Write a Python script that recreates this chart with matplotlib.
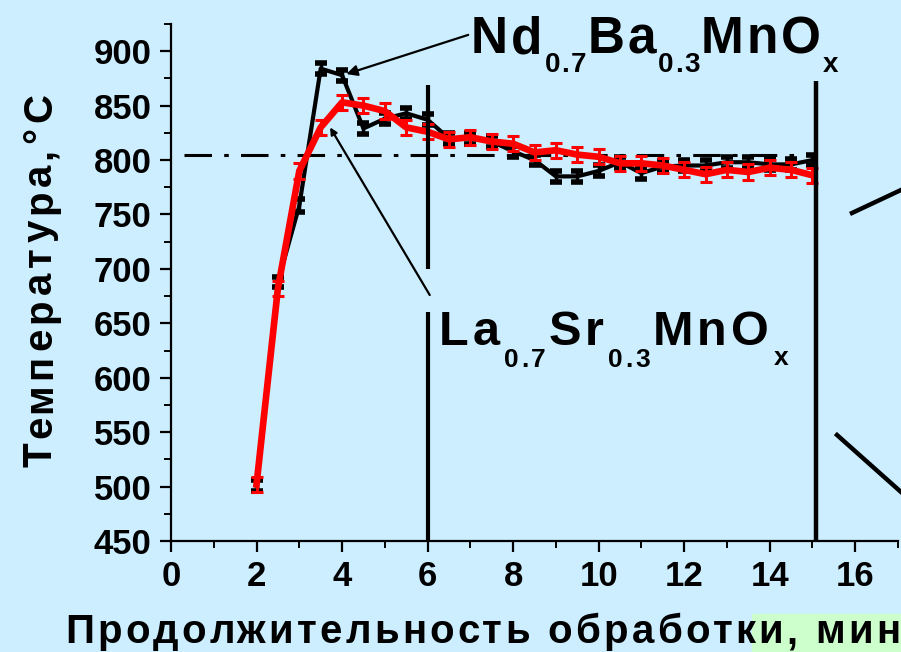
import numpy as np
import matplotlib
matplotlib.use('Agg')
import matplotlib.pyplot as plt
from matplotlib.lines import Line2D
from matplotlib.patches import Rectangle
from matplotlib.font_manager import FontProperties

plt.rcParams['font.family'] = ['Liberation Sans', 'DejaVu Sans']
plt.rcParams['font.weight'] = 'bold'

# time, min
time_black = [2, 2.5, 3, 3.5, 4, 4.5, 5, 5.5, 6, 6.5, 7, 7.5, 8, 8.5, 9, 9.5,
              10, 10.5, 11, 11.5, 12, 12.5, 13, 13.5, 14, 14.5, 15]
temp_black = [501, 688, 758, 884, 878, 829, 838, 843, 837, 820, 820, 817, 808, 800,
              785, 785, 790, 798, 788, 794, 795, 795, 798, 798, 796, 796, 800]
err_black = [5, 5, 6, 5, 5, 5, 5, 5, 5, 5, 5, 5, 5, 5,
             5, 5, 5, 5, 5, 5, 5, 5, 5, 5, 5, 5, 5]

time_red = [2, 2.5, 3, 3.5, 4, 4.5, 5, 5.5, 6, 6.5, 7, 7.5, 8, 8.5, 9, 9.5,
            10, 10.5, 11, 11.5, 12, 12.5, 13, 13.5, 14, 14.5, 15]
temp_red = [502, 682, 790, 830, 853, 850, 845, 830, 826, 819, 821, 817, 815, 807,
            809, 805, 803, 797, 797, 795, 791, 787, 791, 789, 793, 791, 786]
err_red = [7, 7, 7, 7, 7, 7, 7, 7, 7, 7, 7, 7, 7, 7,
           7, 7, 7, 7, 7, 7, 7, 7, 7, 7, 7, 7, 7]

ref_temp = 805
mark_times = [6.02, 15.08]

W, H = 901, 652
bg = '#cceeff'
fig = plt.figure(figsize=(W / 100, H / 100), dpi=100, facecolor=bg)
ax = fig.add_axes([171/W, 111/H, (898-171)/W, (541-24)/H], facecolor=bg)

ax.set_xlim(0, 17)
ax.set_ylim(450, 925)

# reference line
ax.plot([0.3, 15.0], [ref_temp, ref_temp], color='black', lw=2.2,
        dashes=(9, 4, 1.5, 4))

ax.errorbar(time_black, temp_black, yerr=err_black, color='black', lw=3.0,
            elinewidth=2.5, capsize=4, capthick=4, zorder=3)
ax.errorbar(time_red, temp_red, yerr=err_red, color='#ff0000', lw=4.8,
            elinewidth=2.2, capsize=4, capthick=2.2, zorder=4)

# vertical separators
ax.plot([mark_times[0]] * 2, [869, 700], color='black', lw=3, solid_capstyle='butt', zorder=5)
ax.plot([mark_times[0]] * 2, [660, 450], color='black', lw=3, solid_capstyle='butt', zorder=5)
ax.plot([mark_times[1]] * 2, [873, 450], color='black', lw=3.2, solid_capstyle='butt', zorder=5)

# arrows to curves
ax.annotate('', xy=(4.1, 879), xytext=(6.95, 915),
            arrowprops=dict(arrowstyle='-|>', color='black', lw=1.6,
                            mutation_scale=16, shrinkA=0, shrinkB=0))
ax.annotate('', xy=(3.72, 830), xytext=(6.05, 676),
            arrowprops=dict(arrowstyle='-|>', color='black', lw=1.6,
                            mutation_scale=10, shrinkA=0, shrinkB=0))

ax.spines['top'].set_visible(False)
ax.spines['right'].set_visible(False)
ax.spines['left'].set_linewidth(1.6)
ax.spines['bottom'].set_linewidth(1.6)

ax.set_xticks(np.arange(0, 17, 2))
ax.set_xticks(np.arange(1, 18, 2), minor=True)
ax.set_yticks(np.arange(450, 901, 50))
ax.set_yticks(np.arange(475, 926, 50), minor=True)
ax.tick_params(which='major', direction='out', length=8, width=1.6,
               labelsize=25, pad=6)
ax.tick_params(which='minor', direction='out', length=5, width=1.4)
for lab in ax.get_xticklabels() + ax.get_yticklabels():
    lab.set_fontweight('bold')

# highlighted tail of the x label
fig.patches.append(Rectangle((752/W, 0), (W-752)/W, 38/H,
                             transform=fig.transFigure, color='#ccffcc', zorder=0))

# stray arrow fragments at right edge
fig.add_artist(Line2D([852/W, 1], [1 - 213/H, 1 - 190/H], color='black', lw=3.2))
fig.add_artist(Line2D([837/W, 1], [1 - 435/H, 1 - 492/H], color='black', lw=3.2))


def spaced_text(x0, y0, length, pieces, rot=0):
    # letter-spaced text, pieces = (text, size, drop); pixel coords from top-left
    r = fig.canvas.get_renderer()
    big = max(p[1] for p in pieces)
    props = {}
    natural = 0
    weight = 0
    for txt, size, drop in pieces:
        fp = FontProperties(family='Liberation Sans', weight='bold', size=size)
        props[size] = fp
        natural += r.get_text_width_height_descent(txt, fp, ismath=False)[0]
        weight += len(txt) * size / big
    track = (length - natural) / max(weight - 1, 1)
    pos = 0
    for txt, size, drop in pieces:
        fp = props[size]
        tr = track * size / big
        for i, ch in enumerate(txt):
            off = r.get_text_width_height_descent(txt[:i], fp, ismath=False)[0] if i else 0
            off += i * tr
            if rot == 0:
                x, y = x0 + pos + off, y0 + drop
            else:
                x, y = x0 + drop, y0 - pos - off
            fig.text(x / W, 1 - y / H, ch, fontproperties=fp, rotation=rot,
                     ha='left', va='baseline', rotation_mode='anchor')
        pos += r.get_text_width_height_descent(txt, fp, ismath=False)[0] + len(txt) * tr


spaced_text(51, 467, 374, [('Температура,°C', 29, 0)], rot=90)
spaced_text(65, 643, 835, [('Продолжительность обработки, мин', 29, 0)])
spaced_text(471, 53, 366, [('Nd', 37, 0), ('0.7', 20, 19), ('Ba', 37, 0),
                           ('0.3', 20, 19), ('MnO', 37, 0), ('x', 20, 19)])
spaced_text(439, 345, 347, [('La', 35, 0), ('0.7', 19, 22), ('Sr', 35, 0),
                            ('0.3', 19, 22), ('MnO', 35, 0), ('x', 19, 20)])

fig.savefig('out.png', dpi=100, facecolor=bg)
